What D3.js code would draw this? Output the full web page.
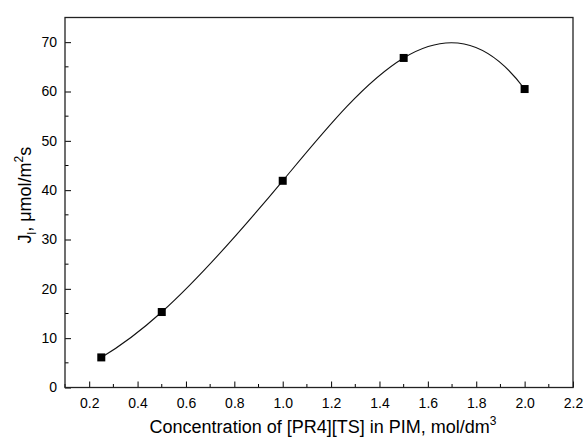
<!DOCTYPE html>
<html>
<head>
<meta charset="utf-8">
<script src="https://cdn.jsdelivr.net/npm/d3@7"></script>
<style>
  body { margin: 0; background: #fff; }
  text { font-family: "Liberation Sans", Arial, sans-serif; fill: #000; }
</style>
</head>
<body>
<svg width="583" height="442"></svg>
<script>
const WIDTH = 583;
const HEIGHT = 442;
const MARGIN = { top: 17.5, right: 10, bottom: 54.5, left: 65 };

// data
const concentration = [0.25, 0.5, 1.0, 1.5, 2.0];
const flux = [6.1, 15.3, 41.9, 66.8, 60.5];
const xTicks = [0.2, 0.4, 0.6, 0.8, 1.0, 1.2, 1.4, 1.6, 1.8, 2.0, 2.2];
const yTicks = [0, 10, 20, 30, 40, 50, 60, 70];

const svg = d3.select('svg');
const innerW = WIDTH - MARGIN.left - MARGIN.right;
const innerH = HEIGHT - MARGIN.top - MARGIN.bottom;

const x = d3.scaleLinear().domain([0.1, 2.2]).range([MARGIN.left, MARGIN.left + innerW]);
const y = d3.scaleLinear().domain([0, 75]).range([MARGIN.top + innerH, MARGIN.top]);

const points = concentration.map((c, i) => ({ c, j: flux[i] }));

// ---------- curve factory: cubic spline in x (not-a-knot ends) ----------

const splineSlopes = (xs, ys) => {
  const n = xs.length;
  const h = d3.range(n - 1).map((i) => xs[i + 1] - xs[i]);
  const d = h.map((hi, i) => (ys[i + 1] - ys[i]) / hi);
  const A = d3.range(n).map(() => new Array(n).fill(0));
  const b = new Array(n).fill(0);
  A[0][0] = -h[1]; A[0][1] = h[0] + h[1]; A[0][2] = -h[0];
  for (let i = 1; i < n - 1; i++) {
    A[i][i - 1] = h[i - 1];
    A[i][i] = 2 * (h[i - 1] + h[i]);
    A[i][i + 1] = h[i];
    b[i] = 6 * (d[i] - d[i - 1]);
  }
  A[n - 1][n - 3] = -h[n - 2]; A[n - 1][n - 2] = h[n - 3] + h[n - 2]; A[n - 1][n - 1] = -h[n - 3];
  // gaussian elimination
  for (let c = 0; c < n; c++) {
    let p = c;
    for (let r = c + 1; r < n; r++) if (Math.abs(A[r][c]) > Math.abs(A[p][c])) p = r;
    [A[c], A[p]] = [A[p], A[c]];
    [b[c], b[p]] = [b[p], b[c]];
    for (let r = c + 1; r < n; r++) {
      const f = A[r][c] / A[c][c];
      for (let k = c; k < n; k++) A[r][k] -= f * A[c][k];
      b[r] -= f * b[c];
    }
  }
  const M = new Array(n).fill(0);
  for (let r = n - 1; r >= 0; r--) {
    let s = b[r];
    for (let k = r + 1; k < n; k++) s -= A[r][k] * M[k];
    M[r] = s / A[r][r];
  }
  return xs.map((_, i) => (i < n - 1
    ? d[i] - (h[i] * (2 * M[i] + M[i + 1])) / 6
    : d[n - 2] + (h[n - 2] * (M[n - 2] + 2 * M[n - 1])) / 6));
};

const curveSplineX = (context) => ({
  lineStart() { this._x = []; this._y = []; },
  point(px, py) { this._x.push(+px); this._y.push(+py); },
  lineEnd() {
    const xs = this._x, ys = this._y;
    context.moveTo(xs[0], ys[0]);
    const m = splineSlopes(xs, ys);
    for (let i = 0; i < xs.length - 1; i++) {
      const h = (xs[i + 1] - xs[i]) / 3;
      context.bezierCurveTo(xs[i] + h, ys[i] + m[i] * h, xs[i + 1] - h, ys[i + 1] - m[i + 1] * h, xs[i + 1], ys[i + 1]);
    }
  },
  areaStart() {},
  areaEnd() {},
});

// ---------- axes ----------

const xMinor = d3.range(0.1, 2.21, 0.1).map((v) => +v.toFixed(1)).filter((v) => !xTicks.includes(v));
const yMinor = d3.range(5, 75, 10);

const xAxis = svg.append('g').attr('transform', `translate(0,${y(0)})`);
xAxis.call(d3.axisBottom(x).tickValues(xTicks).tickFormat(d3.format('.1f')).tickSizeInner(-6).tickSizeOuter(0));
xAxis.append('g').selectAll('line').data(xMinor).join('line')
  .attr('x1', (d) => x(d)).attr('x2', (d) => x(d))
  .attr('y1', 0).attr('y2', -3.5).attr('stroke', '#000');

const yAxis = svg.append('g').attr('transform', `translate(${x(0.1)},0)`);
yAxis.call(d3.axisLeft(y).tickValues(yTicks).tickSizeInner(-6).tickSizeOuter(0));
yAxis.append('g').selectAll('line').data(yMinor).join('line')
  .attr('y1', (d) => y(d)).attr('y2', (d) => y(d))
  .attr('x1', 0).attr('x2', 3.5).attr('stroke', '#000');

svg.selectAll('.tick text').style('font-size', '14px').style('font-family', '"Liberation Sans", Arial, sans-serif');
xAxis.selectAll('.tick text').attr('y', 11).attr('dy', '0.71em');
yAxis.selectAll('.tick text').attr('x', -8);
svg.selectAll('.domain').remove();

// frame
svg.append('rect')
  .attr('x', x(0.1)).attr('y', y(75))
  .attr('width', x(2.2) - x(0.1)).attr('height', y(0) - y(75))
  .attr('fill', 'none').attr('stroke', '#222').attr('stroke-width', 1.3);

// ---------- titles ----------

const xTitle = svg.append('text')
  .attr('x', (x(0.1) + x(2.2)) / 2 + 4).attr('y', 433)
  .attr('text-anchor', 'middle').style('font-size', '18px');
xTitle.append('tspan').text('Concentration of [PR4][TS] in PIM, mol/dm');
xTitle.append('tspan').attr('dy', -8).style('font-size', '12px').text('3');

const yTitle = svg.append('text')
  .attr('transform', `translate(31,${y(39)}) rotate(-90)`)
  .attr('text-anchor', 'middle').style('font-size', '18px');
yTitle.append('tspan').text('J');
yTitle.append('tspan').attr('dy', 5).style('font-size', '12px').text('l');
yTitle.append('tspan').attr('dy', -5).text(', μmol/m');
yTitle.append('tspan').attr('dy', -8).style('font-size', '12px').text('2');
yTitle.append('tspan').attr('dy', 8).text('s');

// ---------- curve + markers ----------

const line = d3.line()
  .x((d) => x(d.c))
  .y((d) => y(d.j))
  .curve(curveSplineX);

svg.append('path')
  .datum(points)
  .attr('d', line)
  .attr('fill', 'none')
  .attr('stroke', '#111')
  .attr('stroke-width', 1.1);

svg.append('g').selectAll('rect').data(points).join('rect')
  .attr('x', (d) => x(d.c) - 4)
  .attr('y', (d) => y(d.j) - 4)
  .attr('width', 8).attr('height', 8)
  .attr('fill', '#000');
</script>
</body>
</html>
